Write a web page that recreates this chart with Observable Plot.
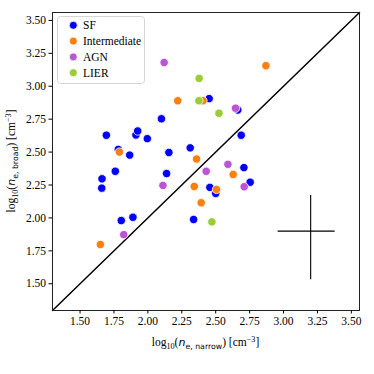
<!DOCTYPE html>
<html><head><meta charset="utf-8">
<script src="https://cdn.jsdelivr.net/npm/d3@7"></script>
<script src="https://cdn.jsdelivr.net/npm/@observablehq/plot@0.6"></script>
<style>
html,body{margin:0;padding:0;background:#fff;}
#chart{width:374px;height:374px;}
</style></head>
<body><div id="chart"></div>
<script>
// ---- data ----
const groups = ["SF", "Intermediate", "AGN", "LIER"];
const groupColors = ["#0000ff", "#ff7f0e", "#ba55d3", "#9acd32"];

const sfX = [1.912, 1.925, 2.452, 2.663, 2.10, 1.694, 1.996, 2.688, 1.782, 1.866, 2.155, 2.312, 2.708, 1.76, 2.138, 1.662, 1.66, 2.457, 2.50, 2.754, 1.804, 1.89, 2.337];
const sfY = [2.63, 2.66, 2.906, 2.82, 2.753, 2.628, 2.602, 2.628, 2.52, 2.477, 2.497, 2.532, 2.382, 2.354, 2.337, 2.297, 2.226, 2.232, 2.186, 2.271, 1.98, 2.005, 1.988];
const intX = [2.87, 2.22, 2.406, 1.79, 2.359, 2.629, 2.342, 2.506, 2.393, 1.65];
const intY = [3.156, 2.89, 2.89, 2.50, 2.447, 2.33, 2.239, 2.217, 2.115, 1.798];
const agnX = [2.12, 2.646, 2.59, 2.43, 2.111, 2.71, 1.822];
const agnY = [3.18, 2.833, 2.407, 2.354, 2.247, 2.237, 1.873];
const lierX = [2.378, 2.376, 2.524, 2.472];
const lierY = [3.06, 2.89, 2.795, 1.97];

const axisDomain = [1.297, 3.56];
const tickValues = [1.50, 1.75, 2.00, 2.25, 2.50, 2.75, 3.00, 3.25, 3.50];

// representative error cross
const errCenterX = 3.2, errCenterY = 1.9;
const errXLow = 0.24, errXHigh = 0.18;
const errYLow = 0.37, errYHigh = 0.27;

// ---- build ----
const seriesX = [sfX, intX, agnX, lierX];
const seriesY = [sfY, intY, agnY, lierY];
const points = [];
groups.forEach((g, i) => seriesX[i].forEach((x, j) => points.push({group: g, x, y: seriesY[i][j]})));
const diag = axisDomain.map(v => ({x: v, y: v}));

const serif = "'Liberation Serif', 'Times New Roman', serif";
const plot = Plot.plot({
  width: 374, height: 374,
  marginLeft: 52, marginRight: 15, marginTop: 12, marginBottom: 64,
  style: {fontFamily: serif, fontSize: "11.5px", background: "white", color: "black", overflow: "visible"},
  x: {domain: axisDomain, label: null},
  y: {domain: axisDomain, label: null},
  color: {domain: groups, range: groupColors},
  marks: [
    Plot.line(diag, {x: "x", y: "y", stroke: "black", strokeWidth: 1.5}),
    Plot.dot(points, {x: "x", y: "y", fill: "group", r: 4.2, stroke: "white", strokeWidth: 0.8, fillOpacity: 1}),
    Plot.ruleX([errCenterX], {y1: errCenterY - errYLow, y2: errCenterY + errYHigh, stroke: "black", strokeWidth: 1.1}),
    Plot.ruleY([errCenterY], {x1: errCenterX - errXLow, x2: errCenterX + errXHigh, stroke: "black", strokeWidth: 1.1}),
    Plot.frame({stroke: "#222", strokeWidth: 1}),
    Plot.axisX({ticks: tickValues, tickFormat: d3.format(".2f"), tickSize: 3.5, tickPadding: 3, fontSize: 11.5, label: null}),
    Plot.axisY({ticks: tickValues, tickFormat: d3.format(".2f"), tickSize: 3.5, tickPadding: 3, fontSize: 11.5, label: null})
  ]
});
document.getElementById("chart").appendChild(plot);

// ---- legend and axis labels ----
const svg = d3.select(plot);
const lg = svg.append("g").attr("font-family", serif).attr("font-size", 11.5).attr("text-anchor", "start");
lg.append("rect").attr("x", 57.5).attr("y", 16.5).attr("width", 87).attr("height", 67)
  .attr("rx", 3).attr("fill", "white").attr("fill-opacity", 0.8).attr("stroke", "#d5d5d5").attr("stroke-width", 1);
groups.forEach((g, i) => {
  const cy = 25.3 + i * 15.8;
  lg.append("circle").attr("cx", 73.3).attr("cy", cy).attr("r", 4).attr("fill", groupColors[i]).attr("stroke", "white").attr("stroke-width", 0.8);
  lg.append("text").attr("x", 83).attr("y", cy + 4).attr("fill", "black").attr("text-anchor", "start").text(g);
});

function mathLabel(sel, sub) {
  const t = sel.append("text").attr("font-family", serif).attr("font-size", 11.5).attr("fill", "black").attr("text-anchor", "middle");
  t.append("tspan").text("log");
  t.append("tspan").attr("font-size", 8.2).attr("dy", 2.8).text("10");
  t.append("tspan").attr("dy", -2.8).text("(");
  t.append("tspan").attr("font-style", "italic").attr("font-family", "'DejaVu Sans', sans-serif").attr("font-size", 11).text("n");
  t.append("tspan").attr("font-size", 7.8).attr("dy", 2.8).attr("font-family", "'DejaVu Sans', sans-serif").text(sub);
  t.append("tspan").attr("dy", -2.8).text(") [cm");
  t.append("tspan").attr("font-size", 8.2).attr("dy", -4.5).text("\u22123");
  t.append("tspan").attr("dy", 4.5).text("]");
  return t;
}
mathLabel(svg.append("g").attr("transform", "translate(205.5,346)"), "e, narrow");
mathLabel(svg.append("g").attr("transform", "translate(15,161) rotate(-90)"), "e, broad");
</script>
</body></html>
